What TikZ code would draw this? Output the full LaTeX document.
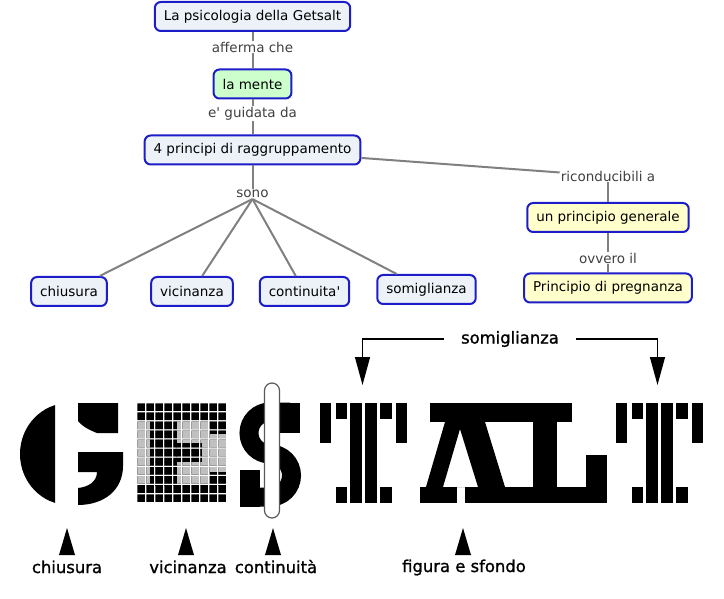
\documentclass[tikz,border=0pt]{standalone}
\usepackage{fontspec}
\setmainfont{DejaVu Sans}
\newfontfamily\gestfamily[FakeBold=1.2]{DejaVu Sans}
\usetikzlibrary{arrows.meta}
\definecolor{conceptblue}{RGB}{28,28,200}
\definecolor{conceptfill}{RGB}{236,242,248}
\definecolor{mentefill}{RGB}{204,255,204}
\definecolor{generalfill}{RGB}{255,255,204}
\definecolor{linkgray}{RGB}{128,128,128}
\definecolor{linktext}{RGB}{64,64,64}
\definecolor{gridgray}{RGB}{192,192,192}
\definecolor{clipgray}{RGB}{90,90,90}
\newcommand{\mapfont}{\fontsize{13.5}{16}\selectfont}
\newcommand{\gestfont}{\gestfamily\fontsize{16.4}{19}\selectfont}
\tikzset{
  concept/.style={
    draw=conceptblue,
    fill=conceptfill,
    line width=2pt,
    rounded corners=6pt,
    minimum height=29pt,
    inner xsep=9pt,
    font=\mapfont
  },
  concept green/.style={
    concept,
    fill=mentefill
  },
  concept yellow/.style={
    concept,
    fill=generalfill
  },
  linkphrase/.style={
    font=\mapfont,
    text=linktext,
    inner sep=1pt
  },
  link/.style={
    draw=linkgray,
    line width=2pt
  },
  gestlabel/.style={
    font=\gestfont,
    inner sep=1pt
  },
  bracket/.style={
    draw,
    line width=1.3pt,
    -{Triangle[length=28pt,width=15pt]}
  }
}

\begin{document}
\begin{tikzpicture}[x=1pt, y=-1pt]
  \useasboundingbox (0,0) rectangle (724,599);

  % Concept map
  \node[concept] (getsalt) at (252.5,16.5) {La psicologia della Getsalt};
  \node[linkphrase] (afferma) at (252.5,47) {afferma che};
  \node[concept green] (mente) at (252.5,84) {la mente};
  \node[linkphrase] (guidata) at (252.5,113.5) {e\textquotesingle{} guidata da};
  \node[concept] (principi) at (252.5,150) {4 principi di raggruppamento};
  \node[linkphrase] (sono) at (252.5,194) {sono};
  \node[concept] (chiusura) at (69,291.5) {chiusura};
  \node[concept] (vicinanza) at (192,291.5) {vicinanza};
  \node[concept] (continuita) at (304.5,291.5) {continuita\textquotesingle};
  \node[concept] (somiglianza) at (426.5,289.5) {somiglianza};
  \node[linkphrase] (ricond) at (608,176) {riconducibili a};
  \node[concept yellow] (generale) at (608,217.5) {un principio generale};
  \node[linkphrase] (ovvero) at (608,258) {ovvero il};
  \node[concept yellow] (pregnanza) at (608,288) {Principio di pregnanza};

  % Links
  \draw[link] (getsalt) -- (afferma);
  \draw[link] (afferma) -- (mente);
  \draw[link] (mente) -- (guidata);
  \draw[link] (guidata) -- (principi);
  \draw[link] (principi) -- (sono);
  \foreach \n in {chiusura,vicinanza,continuita,somiglianza}
    \draw[link] (sono.south) -- (\n);
  \draw[link] (principi) -- (ricond);
  \draw[link] (ricond) -- (generale);
  \draw[link] (generale) -- (ovvero);
  \draw[link] (ovvero) -- (pregnanza);

  % G (chiusura)
  \begin{scope}
    \clip (0,390) rectangle (55,520);
    \fill (69,454) ellipse [x radius=49, y radius=51];
  \end{scope}
  \fill (78,403) -- (118,403) -- (118,433) -- (97,433)
    .. controls (89,430) and (82,426) .. (78,421) -- cycle;
  \fill (78,452) -- (123,452) -- (123,466)
    .. controls (123,490) and (104,505) .. (78,505) -- (78,488)
    .. controls (89,487) and (97,481) .. (97,472) -- (78,472) -- cycle;

  % E (vicinanza)
  \begin{scope}
    \clip foreach \i in {0,...,9} { foreach \j in {0,...,10} {
      ({137.3+\i*9},{403.3+\j*9.1}) rectangle ++(7.5,7.6) } };
    \fill (137,403) rectangle (228,504);
    \fill[gridgray] (137,421.5) rectangle (228,485.3);
    \fill (150,421) rectangle (176.7,486);
    \fill (176,442.7) rectangle (201.7,461.7);
    \fill (210,421) rectangle (228,434);
    \fill (210,471.7) rectangle (228,486);
  \end{scope}

  % S (continuita)
  \draw[line width=19pt] (290,412) -- (270,412)
    arc[start angle=270, end angle=90, radius=21]
    arc[start angle=270, end angle=450, radius=21.5] -- (250,497);
  \fill (280,403) rectangle (300,433);
  \fill (240,470) rectangle (260,506.5);
  \draw[clipgray, fill=white, line width=1.2pt, rounded corners=7.5pt]
    (264.5,383) rectangle (279.5,518);

  % T (somiglianza)
  \foreach \c in {363.5,659}
    \foreach \a/\b/\t/\u in {-43.5/-32.5/403/443, -27.5/-16.5/403/419,
        -13.5/-1.5/403/503, 1.5/13.5/403/503, 16.5/28.5/403/419,
        32.5/43.5/403/443, -27.5/-16.5/487/503, 16.5/28.5/487/503}
      \fill ({\c+\a},\t) rectangle ({\c+\b},\u);

  % A and L (figura e sfondo)
  \fill (430,403) rectangle (572,422);
  \fill[even odd rule] (445,422) -- (485,422) -- (505,487) -- (426,487) -- cycle
    (460,429) -- (478,487) -- (443,487) -- cycle;
  \fill (420,487) rectangle (457,503);
  \fill (465,487) rectangle (607,503);
  \fill (533,422) rectangle (557,487);
  \fill (586,455) rectangle (607,487);

  % Pointers and labels
  \foreach \x in {67,186,273,463}
    \fill (\x,528) -- ({\x+8},555) -- ({\x-8},555) -- cycle;
  \node[gestlabel, anchor=base] (lchiusura) at (67,573) {chiusura};
  \node[gestlabel, anchor=base] (lvicinanza) at (188,573) {vicinanza};
  \node[gestlabel, anchor=base] (lcontinuita) at (276,573) {continuità};
  \node[gestlabel, anchor=base] (lfigura) at (464,572) {figura e sfondo};

  % Somiglianza bracket
  \coordinate (lefttip) at (362.5,385);
  \coordinate (righttip) at (657.5,385);
  \node[gestlabel, inner xsep=17pt] (somlabel) at (510,339) {somiglianza};
  \draw[bracket] (somlabel.west) -| (lefttip);
  \draw[bracket] (somlabel.east) -| (righttip);

\end{tikzpicture}
\end{document}
